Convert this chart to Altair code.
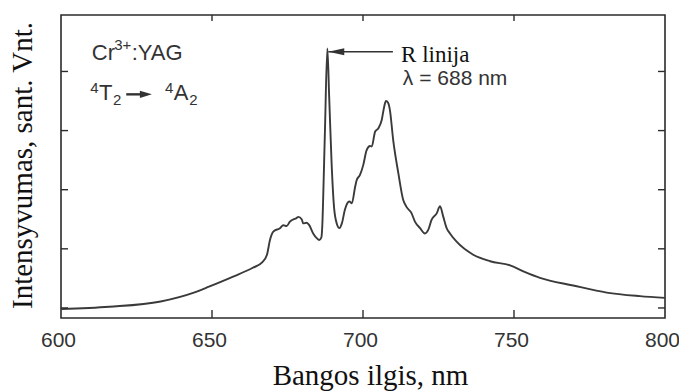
import altair as alt
import pandas as pd

# Cr3+:YAG luminescence spectrum (4T2 -> 4A2 band with the sharp R line)
wavelength_nm = [600, 616, 633, 644, 649, 657, 663.5, 666.6, 668.2, 669.2,
                 670.3, 672.5, 673.6, 674.7, 675.8, 678.0, 678.6, 679.7, 680.2, 681.3,
                 682.2, 683.5, 684.7, 685.5, 686.2, 686.6, 686.8, 687.4, 688.2, 688.8,
                 689.6, 690.4, 691.3, 692.2, 693.0, 694.0, 694.8, 695.5, 696.3, 697.4,
                 697.9, 699.0, 700.1, 701.2, 702.3, 702.9, 704.0, 705.1, 706.2, 707.0,
                 707.6, 708.3, 708.9, 710.0, 711.7, 713.3, 714.4, 716.1, 717.2, 718.9,
                 720.5, 721.6, 722.7, 724.4, 725.5, 726.6, 727.7, 728.8, 731.0, 736.5,
                 742.1, 748.7, 753.1, 758.6, 769.6, 780.7, 791.7, 800]
intensity = [-0.02, 0.02, 0.11, 0.26, 0.36, 0.53, 0.68, 0.77, 0.90, 1.15,
             1.29, 1.35, 1.40, 1.385, 1.46, 1.52, 1.54, 1.50, 1.43, 1.44,
             1.40, 1.26, 1.18, 1.15, 1.19, 1.49, 1.83, 3.00, 4.39, 3.57,
             2.45, 1.71, 1.43, 1.35, 1.43, 1.66, 1.77, 1.80, 1.77, 2.05,
             2.16, 2.25, 2.42, 2.67, 2.74, 2.73, 2.98, 3.04, 3.18, 3.40,
             3.50, 3.47, 3.35, 2.84, 2.28, 1.83, 1.71, 1.60, 1.46, 1.35,
             1.26, 1.32, 1.49, 1.60, 1.72, 1.54, 1.35, 1.26, 1.12, 0.90,
             0.79, 0.72, 0.62, 0.51, 0.38, 0.26, 0.20, 0.17]

x_labels = [600, 650, 700, 750, 800]
x_inner_ticks = [650, 700, 750]
y_ticks = [0, 1, 2, 3, 4]

X_DOMAIN = [600, 800]
Y_DOMAIN = [-0.17, 4.955]

W, H = 604, 303
INK = "#2b2b2b"

spectrum = pd.DataFrame({"wl": wavelength_nm, "I": intensity})
xt = pd.DataFrame({"wl": x_inner_ticks})
yt = pd.DataFrame({"I": y_ticks})

xs = alt.Scale(domain=X_DOMAIN, nice=False, zero=False)
ys = alt.Scale(domain=Y_DOMAIN, nice=False, zero=False)

x_axis = alt.Axis(
    values=x_labels, format="d", ticks=False, tickSize=0, domain=False, grid=False,
    labelFlush=False, labelOverlap=False, labelOffset=-3,
    labelFont="Liberation Sans", labelFontSize=21, labelColor="#333333", labelPadding=11,
    title="Bangos ilgis, nm", titleFont="Liberation Serif", titleFontSize=29,
    titleFontWeight="normal", titleColor="#111111", titleX=309, titleY=66,
    titleBaseline="alphabetic", titleAlign="center",
)
y_axis = alt.Axis(
    labels=False, ticks=False, domain=False, grid=False,
    title="Intensyvumas, sant. Vnt.", titleFont="Liberation Serif", titleFontSize=29,
    titleFontWeight="normal", titleColor="#111111", titleX=-30, titleY=150,
    titleBaseline="alphabetic", titleAlign="center", titleAngle=270,
)

line = alt.Chart(spectrum).mark_line(
    color="#3a3a3a", strokeWidth=1.9, interpolate="monotone"
).encode(
    x=alt.X("wl:Q", scale=xs, axis=x_axis),
    y=alt.Y("I:Q", scale=ys, axis=y_axis),
)

# inward tick marks on all four sides of the frame
tick_style = dict(color=INK, strokeWidth=1.4)
ticks_bottom = alt.Chart(xt).mark_rule(**tick_style).encode(
    x=alt.X("wl:Q", scale=xs), y=alt.value(H), y2=alt.value(H - 8))
ticks_top = alt.Chart(xt).mark_rule(**tick_style).encode(
    x=alt.X("wl:Q", scale=xs), y=alt.value(0), y2=alt.value(6))
ticks_left = alt.Chart(yt).mark_rule(**tick_style).encode(
    y=alt.Y("I:Q", scale=ys), x=alt.value(0), x2=alt.value(7))
ticks_right = alt.Chart(yt).mark_rule(**tick_style).encode(
    y=alt.Y("I:Q", scale=ys), x=alt.value(W), x2=alt.value(W - 7))

# arrow pointing at the R line
r_arrow = pd.DataFrame({"x0": [688.5], "x1": [709.9], "y": [4.333]})
r_arrow_line = alt.Chart(r_arrow).mark_rule(color="#333333", strokeWidth=1.5).encode(
    x=alt.X("x0:Q", scale=xs), x2="x1:Q", y=alt.Y("y:Q", scale=ys))
r_arrow_head = alt.Chart(r_arrow).mark_point(
    shape="M0,0L2,-0.45L2,0.45Z", size=256, filled=True, color="#333333", opacity=1
).encode(x=alt.X("x0:Q", scale=xs), y=alt.Y("y:Q", scale=ys))

# arrow in the transition label
t_arrow = pd.DataFrame({"x0": [621.6], "x1": [627.5], "tip": [630.1], "y": [3.613]})
t_arrow_line = alt.Chart(t_arrow).mark_rule(color="#333333", strokeWidth=2.4).encode(
    x=alt.X("x0:Q", scale=xs), x2="x1:Q", y=alt.Y("y:Q", scale=ys))
t_arrow_head = alt.Chart(t_arrow).mark_point(
    shape="M0,0L-2,-0.6L-2,0.6Z", size=144, filled=True, color="#333333", opacity=1
).encode(x=alt.X("tip:Q", scale=xs), y=alt.Y("y:Q", scale=ys))

# sans-serif annotation pieces (main text, superscripts, subscripts)
sans_text = pd.DataFrame({
    "txt":  ["Cr", "3+", ":YAG", "4", "T", "2", "4", "A", "2", "λ = 688 nm"],
    "wl":   [610.2, 617.6, 623.4, 609.7, 612.6, 617.2, 634.4, 637.3, 642.5, 713.2],
    "I":    [4.193, 4.362, 4.193, 3.630, 3.517, 3.432, 3.630, 3.517, 3.432, 3.770],
    "size": [22, 15, 22, 15, 22, 15, 15, 22, 15, 21],
})
sans = alt.Chart(sans_text).mark_text(
    font="Liberation Sans", align="left", baseline="alphabetic", color="#333333"
).encode(
    x=alt.X("wl:Q", scale=xs), y=alt.Y("I:Q", scale=ys),
    text="txt:N", size=alt.Size("size:Q", scale=None, legend=None),
)

serif_text = pd.DataFrame({"txt": ["R linija"], "wl": [712.6], "I": [4.165]})
serif = alt.Chart(serif_text).mark_text(
    font="Liberation Serif", fontSize=23, align="left", baseline="alphabetic", color="#111111"
).encode(x=alt.X("wl:Q", scale=xs), y=alt.Y("I:Q", scale=ys), text="txt:N")

chart = alt.layer(
    line, ticks_bottom, ticks_top, ticks_left, ticks_right,
    r_arrow_line, r_arrow_head, t_arrow_line, t_arrow_head, sans, serif,
).properties(
    width=W, height=H,
    autosize=alt.AutoSizeParams(type="none"),
    padding={"left": 61, "top": 15, "right": 14, "bottom": 73},
    background="white",
).configure_view(
    stroke=INK, strokeWidth=1.6,
)

chart.save("out.html", embed_options={"renderer": "svg", "actions": False})
